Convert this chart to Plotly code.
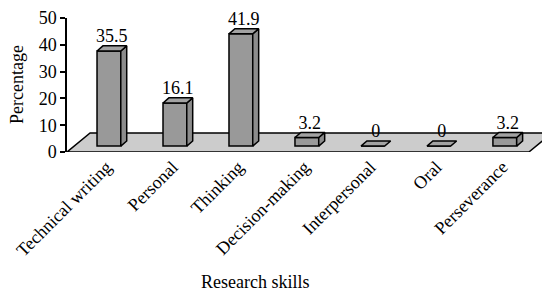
import plotly.graph_objects as go

categories = ["Technical writing", "Personal", "Thinking", "Decision-making",
              "Interpersonal", "Oral", "Perseverance"]
values = [35.5, 16.1, 41.9, 3.2, 0, 0, 3.2]
value_labels = ["35.5", "16.1", "41.9", "3.2", "0", "0", "3.2"]
y_ticks = [0, 10, 20, 30, 40, 50]

# pseudo-3D geometry (in data units)
FLOOR_DX, FLOOR_DY = 0.35, 7.1
BAR_OFF, BAR_W, BAR_BASE = 0.135, 0.36, 2.2
DEP_DX, DEP_DY = 0.09, 1.9

FONT = "Liberation Serif"
GRAY = "#999999"
n = len(categories)
x0, x1 = -0.5, n - 0.5

# page body has an 8px default margin; compensate
PAD = 8
W, H = 550 - PAD, 295 - PAD
ML, MT, MB = 67 - PAD, 18 - PAD, 143
PW, PH = W - ML, H - MT - MB

fig = go.Figure()

# floor (below traces)
floor_path = (f"M {x0},0 L {x1},0 L {x1+FLOOR_DX},{FLOOR_DY} "
              f"L {x0+FLOOR_DX},{FLOOR_DY} Z")
fig.add_shape(type="path", path=floor_path, xref="x", yref="y",
              fillcolor="#cccccc", line=dict(color="black", width=1.5),
              layer="below")

xs = [i + BAR_OFF for i in range(n)]
# front faces
fig.add_trace(go.Bar(x=xs, y=values, base=[BAR_BASE] * n, width=BAR_W,
                     marker=dict(color=GRAY, line=dict(color="black", width=1.5)),
                     hoverinfo="skip", showlegend=False))

# top and side faces
for i, v in enumerate(values):
    xl = xs[i] - BAR_W / 2
    xr = xs[i] + BAR_W / 2
    b = BAR_BASE
    t = BAR_BASE + v
    if v > 0:
        fig.add_trace(go.Scatter(
            x=[xr, xr, xr + DEP_DX, xr + DEP_DX, xr],
            y=[b, t, t + DEP_DY, b + DEP_DY, b],
            mode="lines", fill="toself", fillcolor="#8c8c8c",
            line=dict(color="black", width=1.5), hoverinfo="skip",
            showlegend=False))
    fig.add_trace(go.Scatter(
        x=[xl, xr, xr + DEP_DX, xl + DEP_DX, xl],
        y=[t, t, t + DEP_DY, t + DEP_DY, t],
        mode="lines", fill="toself", fillcolor="#a3a3a3",
        line=dict(color="black", width=1.5), hoverinfo="skip",
        showlegend=False))

# value labels
fig.add_trace(go.Scatter(
    x=[x + DEP_DX / 2 for x in xs],
    y=[BAR_BASE + v + DEP_DY - 0.3 for v in values],
    mode="text", text=value_labels, textposition="top center",
    textfont=dict(family=FONT, size=18, color="black"),
    cliponaxis=False, hoverinfo="skip", showlegend=False))

XR = [x0, x1 + FLOOR_DX - 0.03]
fig.update_layout(
    width=W, height=H,
    margin=dict(l=ML, r=0, t=MT, b=MB, pad=0),
    plot_bgcolor="white", paper_bgcolor="white",
    font=dict(family=FONT, size=18, color="black"),
    showlegend=False,
    xaxis=dict(range=XR, tickmode="array",
               tickvals=[i + 0.1 for i in range(n)], ticktext=categories,
               tickangle=-45, ticks="", showline=False, showgrid=False,
               zeroline=False, automargin=False,
               tickfont=dict(family=FONT, size=18)),
    xaxis2=dict(overlaying="x", anchor="y", side="bottom",
                range=XR, tickmode="array",
                tickvals=[i - 0.5 for i in range(n + 1)],
                ticks="outside", ticklen=6, tickwidth=2, tickcolor="black",
                showticklabels=False, showline=False, showgrid=False,
                zeroline=False, automargin=False),
    yaxis=dict(range=[0, 50], tickmode="array", tickvals=y_ticks,
               ticks="outside", ticklen=5, tickwidth=1.5, tickcolor="black",
               showline=True, linecolor="black", linewidth=1.5,
               showgrid=False, zeroline=False, automargin=False,
               tickfont=dict(family=FONT, size=18)),
    annotations=[
        dict(text="Percentage", xref="paper", yref="paper",
             x=(17 - 67) / PW, y=0.5, textangle=-90, showarrow=False,
             font=dict(family=FONT, size=18), xanchor="center",
             yanchor="middle"),
        dict(text="Research skills", xref="paper", yref="paper",
             x=(255 - 67) / PW, y=(152 - 282) / PH, showarrow=False,
             font=dict(family=FONT, size=18), xanchor="center",
             yanchor="middle"),
    ],
)

fig.write_html("out.html")
